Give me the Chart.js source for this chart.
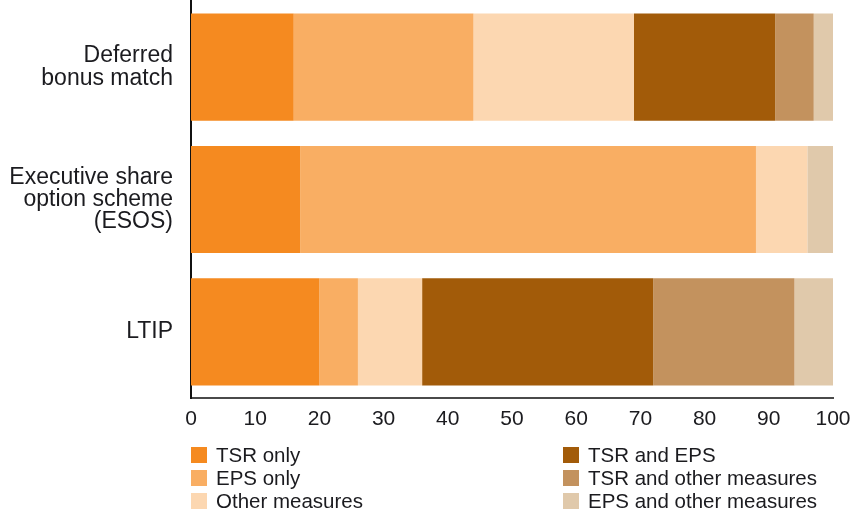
<!DOCTYPE html>
<html>
<head>
<meta charset="utf-8">
<script src="https://cdn.jsdelivr.net/npm/chart.js@4.4.1/dist/chart.umd.min.js"></script>
<style>
  html, body { margin: 0; padding: 0; background: #ffffff; }
  #wrap { width: 858px; height: 514px; position: relative; }
</style>
</head>
<body>
<div id="wrap"><canvas id="chart" width="858" height="514"></canvas></div>
<script>
// Performance measures used by each incentive plan (% of companies)
const categories = [
  ['Deferred', 'bonus match'],
  ['Executive share', 'option scheme', '(ESOS)'],
  'LTIP'
];
const tsrOnly          = [16, 17, 20];
const epsOnly          = [28, 71, 6];
const otherMeasures    = [25, 8, 10];
const tsrAndEps        = [22, 0, 36];
const tsrAndOther      = [6, 0, 22];
const epsAndOther      = [3, 4, 6];
const xTicks = [0, 10, 20, 30, 40, 50, 60, 70, 80, 90, 100];

const seriesNames = ['TSR only', 'EPS only', 'Other measures', 'TSR and EPS', 'TSR and other measures', 'EPS and other measures'];
const seriesColors = ['#F58A20', '#F9AE63', '#FCD7B1', '#A25B09', '#C3925E', '#E0C9AB'];
const seriesValues = [tsrOnly, epsOnly, otherMeasures, tsrAndEps, tsrAndOther, epsAndOther];

const FONT = '"Liberation Sans", Arial, Helvetica, sans-serif';
const TEXT = '#1b1b1f';

// Two-column legend drawn under the axis (filled down each column)
const columnLegend = {
  id: 'columnLegend',
  afterDraw(chart) {
    const ctx = chart.ctx;
    const cols = [191, 563];
    const rows = [455, 478, 501];
    ctx.save();
    ctx.font = '20.5px ' + FONT;
    ctx.textBaseline = 'middle';
    ctx.textAlign = 'left';
    chart.data.datasets.forEach((ds, i) => {
      const x = cols[Math.floor(i / 3)];
      const y = rows[i % 3];
      ctx.fillStyle = ds.backgroundColor;
      ctx.fillRect(x, y - 8, 16, 16);
      ctx.fillStyle = TEXT;
      ctx.fillText(ds.label, x + 25, y + 1);
    });
    ctx.restore();
  }
};

new Chart(document.getElementById('chart'), {
  type: 'bar',
  data: {
    labels: categories,
    datasets: seriesNames.map((name, i) => ({
      label: name,
      data: seriesValues[i],
      backgroundColor: seriesColors[i],
      borderWidth: 0,
      categoryPercentage: 1,
      barPercentage: 0.81
    }))
  },
  options: {
    indexAxis: 'y',
    responsive: false,
    animation: false,
    layout: { padding: { left: 5, right: 25, top: 1, bottom: 80 } },
    plugins: {
      legend: { display: false },
      tooltip: { enabled: false }
    },
    scales: {
      x: {
        stacked: true,
        min: 0,
        max: 100,
        afterBuildTicks: (scale) => { scale.ticks = xTicks.map(v => ({ value: v })); },
        afterFit: (scale) => {
          scale.height = 36;
          scale.paddingLeft = 0;
          scale.paddingRight = 0;
        },
        grid: { display: false, drawTicks: false },
        border: { display: true, color: '#4a4a4a', width: 2 },
        ticks: {
          color: TEXT,
          padding: 9,
          font: { family: FONT, size: 21 }
        }
      },
      y: {
        stacked: true,
        afterFit: (scale) => {
          scale.width = 186;
          scale.paddingTop = 0;
          scale.paddingBottom = 0;
        },
        grid: { display: false, drawTicks: false },
        border: { display: true, color: '#111111', width: 2 },
        ticks: {
          color: TEXT,
          padding: 18,
          font: { family: FONT, size: 23, lineHeight: 0.97 }
        }
      }
    }
  },
  plugins: [columnLegend]
});
</script>
</body>
</html>
